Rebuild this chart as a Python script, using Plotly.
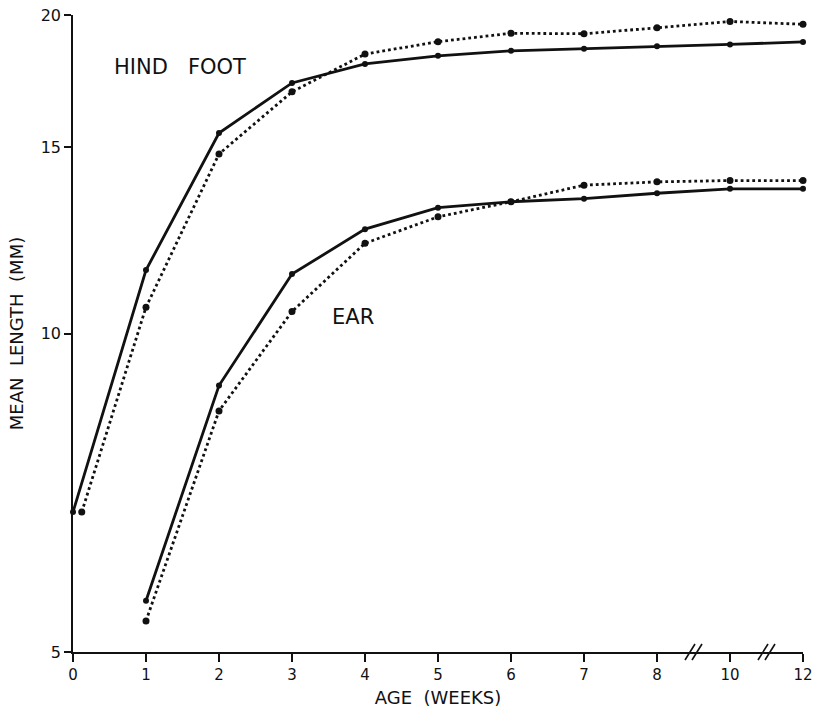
import plotly.graph_objects as go

# Age in weeks; the axis is compressed after 8 weeks (8 -> 10 -> 12)
ages = [0, 1, 2, 3, 4, 5, 6, 7, 8, 10, 12]
ear_ages = [1, 2, 3, 4, 5, 6, 7, 8, 10, 12]
tick_labels = ["0", "1", "2", "3", "4", "5", "6", "7", "8", "10", "12"]

# Mean lengths (mm)
hind_foot_solid = [6.78, 11.48, 15.47, 17.25, 17.98, 18.30, 18.50, 18.58, 18.68, 18.76, 18.86]
hind_foot_dotted = [6.78, 10.59, 14.78, 16.92, 18.37, 18.87, 19.22, 19.20, 19.45, 19.72, 19.60]
ear_solid = [5.59, 8.93, 11.38, 12.55, 13.15, 13.32, 13.41, 13.57, 13.70, 13.70]
ear_dotted = [5.35, 8.45, 10.49, 12.17, 12.89, 13.32, 13.81, 13.91, 13.95, 13.95]

# dotted birth value nudged right so both points stay visible
birth_nudge = 0.12

y_ticks = [5, 10, 15, 20]

FONT = "DejaVu Sans"
INK = "#111111"
NB = "\u00a0"


def to_pos(week):
    """Map age in weeks to the broken x scale (2-week steps after week 8)."""
    return week if week <= 8 else 8 + (week - 8) / 2


tick_pos = [to_pos(a) for a in ages]
break_pos = [(tick_pos[8] + tick_pos[9]) / 2, (tick_pos[9] + tick_pos[10]) / 2]

fig = go.Figure()


def add_series(xs, ys, dotted, name):
    fig.add_trace(go.Scatter(
        x=[to_pos(a) for a in xs], y=ys, name=name,
        mode="lines+markers",
        line=dict(color=INK, width=2.8,
                  dash="2.8px,3px" if dotted else "solid"),
        marker=dict(color=INK, size=7 if dotted else 6),
        showlegend=False, cliponaxis=False,
    ))


add_series(ages, hind_foot_solid, False, "Hind foot (solid)")
add_series([ages[0] + birth_nudge] + ages[1:], hind_foot_dotted, True, "Hind foot (dotted)")
add_series(ear_ages, ear_solid, False, "Ear (solid)")
add_series(ear_ages, ear_dotted, True, "Ear (dotted)")

# "//" break marks on the x axis
for bp in break_pos:
    for dx in (-3.5, 3.5):
        fig.add_shape(type="line", xref="x", yref="paper",
                      xsizemode="pixel", ysizemode="pixel",
                      xanchor=bp, yanchor=0,
                      x0=dx - 5, x1=dx + 5, y0=-8, y1=8,
                      line=dict(color=INK, width=1.6))

fig.add_annotation(text="HIND" + NB * 3 + "FOOT", xref="paper", yref="paper",
                   x=0.053, y=0.918, xanchor="left", yanchor="middle",
                   showarrow=False, font=dict(family=FONT, size=21, color=INK))
fig.add_annotation(text="EAR", xref="paper", yref="paper",
                   x=0.352, y=0.526, xanchor="left", yanchor="middle",
                   showarrow=False, font=dict(family=FONT, size=21, color=INK))

fig.update_xaxes(
    range=[0, 10], tickvals=tick_pos, ticktext=tick_labels,
    showline=True, linecolor=INK, linewidth=1.6,
    ticks="outside", ticklen=8, tickwidth=1.6, tickcolor=INK,
    showgrid=False, zeroline=False, automargin=False,
    tickfont=dict(family=FONT, size=15, color=INK),
    title=dict(text="AGE" + NB * 2 + "(WEEKS)", standoff=10,
               font=dict(family=FONT, size=18, color=INK)),
)
fig.update_yaxes(
    type="log", range=[0.69897, 1.30103], tickvals=y_ticks,
    ticktext=[str(v) for v in y_ticks],
    showline=True, linecolor=INK, linewidth=1.6,
    ticks="outside", ticklen=7, tickwidth=1.6, tickcolor=INK,
    showgrid=False, zeroline=False, automargin=False,
    tickfont=dict(family=FONT, size=16, color=INK),
    title=dict(text="MEAN" + NB * 2 + "LENGTH" + NB * 2 + "(MM)", standoff=12,
               font=dict(family=FONT, size=18, color=INK)),
)

fig.update_layout(
    width=813, height=708,
    margin=dict(l=73, r=10, t=15, b=56),
    paper_bgcolor="white", plot_bgcolor="white",
    font=dict(family=FONT, color=INK),
)

fig.write_html("out.html")
